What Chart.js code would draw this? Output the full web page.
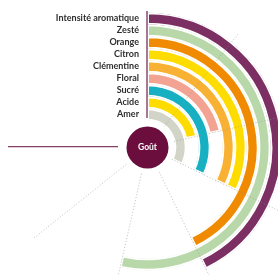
<!DOCTYPE html>
<html>
<head>
<meta charset="utf-8">
<script src="https://cdn.jsdelivr.net/npm/chart.js@4/dist/chart.umd.min.js"></script>
<style>
  html, body { margin: 0; padding: 0; background: #fff; }
  body { width: 278px; height: 275px; overflow: hidden; position: relative; font-family: Lato, "Open Sans", sans-serif; }
  #chart { position: absolute; left: 0; top: 0; }
  #labels { position: absolute; right: 139px; top: 12px; text-align: right; font-weight: 700; font-size: 9px; line-height: 12px; color: #2e2e2e; white-space: nowrap; }
  #centre { position: absolute; left: 127.5px; top: 139.5px; width: 40px; text-align: center; color: #fff; font-weight: 700; font-size: 8.5px; line-height: 15px; }
</style>
</head>
<body>
<canvas id="chart" width="300" height="300"></canvas>
<div id="labels"></div>
<div id="centre">Goût</div>
<script>
// flavour profile, scale 0..7 drawn over 270 degrees
const categories = ["Intensité aromatique", "Zesté", "Orange", "Citron", "Clémentine", "Floral", "Sucré", "Acide", "Amer"];
const scores = [4, 5, 4, 3, 3, 2, 3, 2, 3];
const scaleMax = 7;
const centreLabel = "Goût";

const colours = ["#7b2f62", "#b9d8a9", "#f08a00", "#ffdc00", "#f8b133", "#f2a391", "#17b0c2", "#ffdc00", "#d3d4c8"];

document.getElementById("labels").innerHTML = categories.map(c => "<div>" + c + "</div>").join("");
document.getElementById("centre").textContent = centreLabel;

// lines, dotted ticks and the centre disc
const decor = {
    id: "decor",
    afterDatasetsDraw(chart) {
        const ctx = chart.ctx;
        const outer = chart.getDatasetMeta(0).data[0];
        const inner = chart.getDatasetMeta(categories.length - 1).data[0];
        const cx = outer.x, cy = outer.y;
        const rOut = outer.outerRadius, rIn = inner.innerRadius;
        ctx.save();

        // dotted tick lines
        ctx.strokeStyle = "rgba(140,140,140,0.7)";
        ctx.lineWidth = 0.8;
        ctx.setLineDash([1, 2]);
        for (let k = 1; k < scaleMax; k++) {
            const a = -Math.PI / 2 + (k / scaleMax) * 1.5 * Math.PI;
            ctx.beginPath();
            ctx.moveTo(cx + Math.cos(a) * rIn, cy + Math.sin(a) * rIn);
            ctx.lineTo(cx + Math.cos(a) * (rOut + 10), cy + Math.sin(a) * (rOut + 10));
            ctx.stroke();
        }
        ctx.setLineDash([]);

        // start and end axis lines
        ctx.strokeStyle = "#834069";
        ctx.lineWidth = 1.4;
        ctx.beginPath();
        ctx.moveTo(cx - 0.5, cy - rIn - 2.5);
        ctx.lineTo(cx - 0.5, cy - rOut - 1.5);
        ctx.stroke();
        ctx.lineWidth = 1.2;
        ctx.beginPath();
        ctx.moveTo(cx - rIn - 2.5, cy - 0.8);
        ctx.lineTo(cx - rOut - 4.5, cy - 0.8);
        ctx.stroke();

        // centre disc
        ctx.fillStyle = "#6b0e3e";
        ctx.beginPath();
        ctx.arc(cx, cy, 21, 0, Math.PI * 2);
        ctx.fill();
        ctx.restore();
    }
};

const datasets = categories.map((c, i) => ({
    label: c,
    data: [scores[i], scaleMax - scores[i]],
    backgroundColor: [colours[i], "rgba(0,0,0,0)"],
    borderColor: "#ffffff",
    borderWidth: [1.5, 0],
    borderAlign: "inner",
    hoverOffset: 0,
    offset: 0
}));

new Chart(document.getElementById("chart"), {
    type: "doughnut",
    data: { labels: ["score", "reste"], datasets: datasets },
    options: {
        responsive: false,
        devicePixelRatio: 1,
        animation: false,
        events: [],
        rotation: 0,
        circumference: 270,
        cutout: "20%",
        layout: { padding: { left: 12.5, top: 12.5, right: 17.5, bottom: 17.5 } },
        plugins: {
            legend: { display: false },
            tooltip: { enabled: false }
        }
    },
    plugins: [decor]
});
</script>
</body>
</html>
